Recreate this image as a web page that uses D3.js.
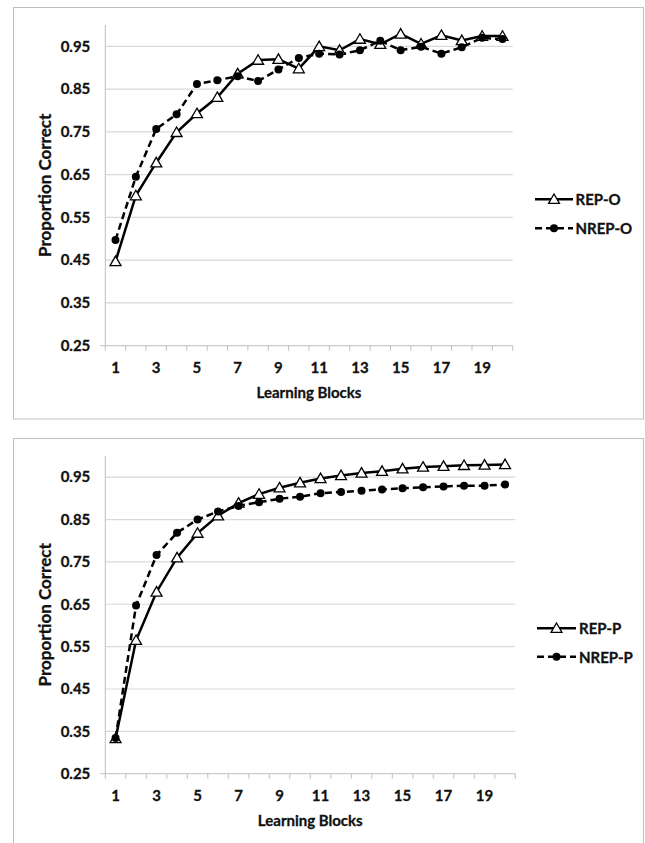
<!DOCTYPE html>
<html>
<head>
<meta charset="utf-8">
<script src="https://cdn.jsdelivr.net/npm/d3@7"></script>
<style>
  html, body { margin: 0; padding: 0; background: #fff; }
  svg { display: block; }
  text { font-family: Lato, "Open Sans", sans-serif; font-weight: bold; fill: #111; stroke: #111; stroke-width: 0.3px; }
</style>
</head>
<body>
<svg id="chart" width="645" height="843"></svg>
<script>
// ---- Data ----
const blocks = d3.range(1, 21);
const xTickLabels = [1, 3, 5, 7, 9, 11, 13, 15, 17, 19];
const yTickValues = [0.25, 0.35, 0.45, 0.55, 0.65, 0.75, 0.85, 0.95];

const repO  = [0.447, 0.601, 0.678, 0.749, 0.793, 0.831, 0.886, 0.918, 0.920, 0.898,
               0.950, 0.941, 0.967, 0.955, 0.979, 0.956, 0.976, 0.964, 0.974, 0.974];
const nrepO = [0.497, 0.645, 0.757, 0.791, 0.862, 0.871, 0.880, 0.869, 0.896, 0.923,
               0.933, 0.931, 0.941, 0.963, 0.941, 0.949, 0.933, 0.948, 0.970, 0.967];

const repP  = [0.333, 0.565, 0.679, 0.760, 0.818, 0.859, 0.889, 0.910, 0.925, 0.937,
               0.947, 0.954, 0.960, 0.964, 0.970, 0.974, 0.976, 0.978, 0.979, 0.980];
const nrepP = [0.334, 0.647, 0.766, 0.819, 0.850, 0.869, 0.882, 0.891, 0.899, 0.904,
               0.912, 0.915, 0.918, 0.921, 0.924, 0.926, 0.928, 0.930, 0.930, 0.933];

const charts = [
  { box: [13.5, 7.5, 630, 411.5], plot: { left: 105.3, right: 512.7, top: 25, bottom: 345.7 },
    series: [ { name: "REP-O", values: repO, marker: "triangle", dashed: false },
              { name: "NREP-O", values: nrepO, marker: "circle", dashed: true } ],
    legend: { x1: 535, x2: 573, tx: 575.5, y: [199.3, 228.3] },
    xLabelY: 366.7, xTitleY: 391.7 },
  { box: [13.5, 438.5, 630, 420], plot: { left: 105.3, right: 515.3, top: 456, bottom: 773.7 },
    series: [ { name: "REP-P", values: repP, marker: "triangle", dashed: false },
              { name: "NREP-P", values: nrepP, marker: "circle", dashed: true } ],
    legend: { x1: 537, x2: 576, tx: 579, y: [628.3, 656.7] },
    xLabelY: 795, xTitleY: 820 }
];

const svg = d3.select("#chart");
const triangle = d3.symbol().type(d3.symbolTriangle).size(52);

function drawMarker(g, type, x, y) {
  if (type === "triangle") {
    g.append("path").attr("d", triangle())
      .attr("transform", `translate(${x},${y + 1})`)
      .attr("fill", "#fff").attr("stroke", "#000").attr("stroke-width", 1.3);
  } else {
    g.append("circle").attr("cx", x).attr("cy", y).attr("r", 4)
      .attr("fill", "#000");
  }
}

charts.forEach(c => {
  const g = svg.append("g");
  // chart border
  g.append("rect").attr("x", c.box[0]).attr("y", c.box[1])
    .attr("width", c.box[2]).attr("height", c.box[3])
    .attr("fill", "none").attr("stroke", "#bfbfbf").attr("stroke-width", 1);

  const x = d3.scaleBand().domain(blocks).range([c.plot.left, c.plot.right]);
  const y = d3.scaleLinear().domain([0.25, 1.0]).range([c.plot.bottom, c.plot.top]);

  // gridlines
  g.append("g").selectAll("line").data(yTickValues.slice(1)).join("line")
    .attr("x1", c.plot.left).attr("x2", c.plot.right)
    .attr("y1", d => y(d)).attr("y2", d => y(d))
    .attr("stroke", "#d9d9d9").attr("stroke-width", 1.2);

  // y axis
  const yAxis = g.append("g").attr("transform", `translate(${c.plot.left},0)`)
    .call(d3.axisLeft(y).tickValues(yTickValues).tickFormat(d3.format(".2f")).tickSize(0).tickPadding(15));
  yAxis.select(".domain").attr("stroke", "#bfbfbf").attr("d", `M0,${c.plot.top}V${c.plot.bottom}`);
  yAxis.selectAll("text").style("font-size", "15px").style("font-family", "Lato, sans-serif").style("font-weight", "bold").attr("fill", "#111");

  // x axis line + boundary ticks
  g.append("line").attr("x1", c.plot.left - 5).attr("x2", c.plot.right)
    .attr("y1", c.plot.bottom).attr("y2", c.plot.bottom)
    .attr("stroke", "#bfbfbf").attr("stroke-width", 1);
  const bounds = blocks.map(b => x(b)).concat([c.plot.right]);
  g.append("g").selectAll("line").data(bounds).join("line")
    .attr("x1", d => d).attr("x2", d => d)
    .attr("y1", c.plot.bottom).attr("y2", c.plot.bottom + 5)
    .attr("stroke", "#bfbfbf").attr("stroke-width", 1);

  // x tick labels
  g.append("g").selectAll("text").data(xTickLabels).join("text")
    .attr("x", d => x(d) + x.bandwidth() / 2).attr("y", c.xLabelY)
    .attr("text-anchor", "middle").attr("dominant-baseline", "central")
    .style("font-size", "15px").text(d => d);

  // axis titles
  g.append("text").attr("x", (c.plot.left + c.plot.right) / 2).attr("y", c.xTitleY)
    .attr("text-anchor", "middle").attr("dominant-baseline", "central")
    .style("font-size", "15px").text("Learning Blocks");
  g.append("text")
    .attr("transform", `translate(44,${(c.plot.top + c.plot.bottom) / 2}) rotate(-90)`)
    .attr("text-anchor", "middle").attr("dominant-baseline", "central")
    .style("font-size", "17px").text("Proportion Correct");

  // series
  const line = d3.line().x((d, i) => x(blocks[i]) + x.bandwidth() / 2).y(d => y(d));
  c.series.forEach(s => {
    g.append("path").attr("d", line(s.values)).attr("fill", "none")
      .attr("stroke", "#000").attr("stroke-width", 2.5)
      .attr("stroke-dasharray", s.dashed ? "7,4" : null);
  });
  c.series.forEach(s => {
    const mg = g.append("g");
    s.values.forEach((v, i) => drawMarker(mg, s.marker, x(blocks[i]) + x.bandwidth() / 2, y(v)));
  });

  // legend
  c.series.forEach((s, i) => {
    const ly = c.legend.y[i];
    g.append("line").attr("x1", c.legend.x1).attr("x2", c.legend.x2)
      .attr("y1", ly).attr("y2", ly)
      .attr("stroke", "#000").attr("stroke-width", 2.5)
      .attr("stroke-dasharray", s.dashed ? "7,4" : null);
    drawMarker(g, s.marker, (c.legend.x1 + c.legend.x2) / 2, ly);
    g.append("text").attr("x", c.legend.tx).attr("y", ly)
      .attr("dominant-baseline", "central").style("font-size", "15px").text(s.name);
  });
});
</script>
</body>
</html>
